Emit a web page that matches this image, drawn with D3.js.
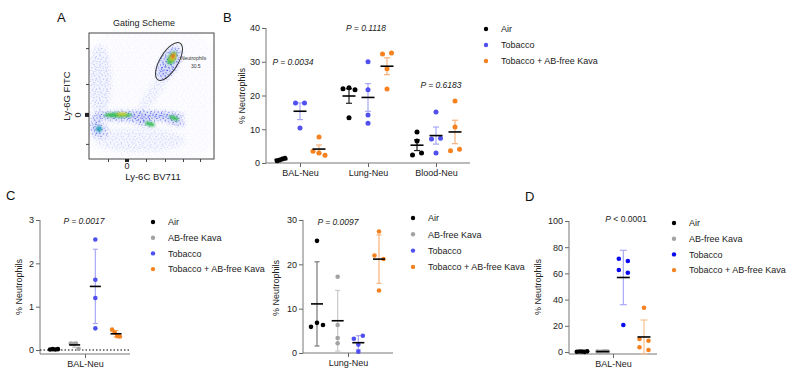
<!DOCTYPE html>
<html><head><meta charset="utf-8">
<script src="https://cdn.jsdelivr.net/npm/d3@7"></script>
<style>body{margin:0;background:#fff}svg{display:block;font-family:"Liberation Sans",Arial,sans-serif}</style>
</head><body><svg id="c" width="800" height="381"></svg>
<script>
// ---------------- DATA ----------------
// Panel B (mean ± SEM)
const categoriesB = ["BAL-Neu", "Lung-Neu", "Blood-Neu"];
const groupsB = ["Air", "Tobacco", "Tobacco + AB-free Kava"];
const airB = [[0.7, 0.9, 1.2, 1.4], [22.0, 22.3, 21.7, 13.4], [9.2, 6.5, 2.4, 3.0]];
const tobaccoB = [[17.8, 17.8, 10.4], [30.0, 21.7, 14.2, 11.8], [15.1, 7.1, 7.3, 3.0]];
const tobKavaB = [[7.7, 3.5, 3.0, 2.3], [32.3, 32.6, 27.9, 21.9], [18.4, 10.7, 3.6, 4.1]];
const pTextB = ["0.0034", "0.1118", "0.6183"];
const pLevelB = [30, 40, 23];           // value-level where each P label sits
const yTicksB = [0, 10, 20, 30, 40];

// Panels C and D (mean ± SD)
const groupsCD = ["Air", "AB-free Kava", "Tobacco", "Tobacco + AB-free Kava"];
const balC = [[0.01, 0.02, 0.01, 0.02], [0.15, 0.14, 0.15, 0.03], [2.55, 1.62, 1.2, 0.5], [0.47, 0.40, 0.32, 0.31]];
const lungC = [[25.3, 5.9, 6.8, 6.3], [17.2, 6.3, 3.4, 2.2], [3.2, 3.9, 1.9, 0.3], [27.4, 22.0, 21.2, 14.1]];
const balD = [[0.2, 0.4, 0.3, 0.1, 0.5], [0.3, 0.2, 0.4, 0.5, 0.3], [71.2, 69.5, 62.6, 60.5, 20.6], [33.8, 9.9, 8.6, 3.6, 1.5]];
const yTicksC1 = [0, 1, 2, 3];
const yTicksC2 = [0, 10, 20, 30];
const yTicksD = [0, 20, 40, 60, 80, 100];

// Panel A (gating plot populations, in plot units 0-100)
const populationsA = [
  {cx: 50, cy: 50, rx: 62, ry: 62, rot: 0, a: 0.05},
  {cx: 39.2, cy: 34.1, rx: 36.8, ry: 3.8, rot: 0, a: 0.95},
  {cx: 5.6, cy: 27, rx: 4.8, ry: 7.9, rot: 0, a: 0.6},
  {cx: 8.8, cy: 22.2, rx: 7.2, ry: 5.6, rot: 0, a: 0.5},
  {cx: 40.8, cy: 30.2, rx: 11.2, ry: 2.6, rot: 18, a: 0.8},
  {cx: 66.4, cy: 31, rx: 10.4, ry: 3.0, rot: 20, a: 0.8},
  {cx: 8.8, cy: 62.7, rx: 8.8, ry: 27.8, rot: 0, a: 0.22},
  {cx: 52.8, cy: 54.8, rx: 4.8, ry: 22.2, rot: 35, a: 0.16},
  {cx: 64, cy: 76.2, rx: 7.2, ry: 14.3, rot: 30, a: 0.9},
  {cx: 40.8, cy: 15, rx: 36, ry: 9.5, rot: 0, a: 0.15}
];
const coresA = [
  {cx: 23.2, cy: 34.9, rx: 11.2, ry: 2.0, rot: 0, color: "#2fbf45"},
  {cx: 48.8, cy: 27.8, rx: 4, ry: 1.6, rot: 15, color: "#2fbf45"},
  {cx: 68, cy: 32.5, rx: 4, ry: 1.6, rot: 20, color: "#2fbf45"},
  {cx: 8, cy: 23.8, rx: 2.4, ry: 2.4, rot: 0, color: "#20a0b0"},
  {cx: 26.4, cy: 35.7, rx: 4, ry: 1.2, rot: 0, color: "#d8d020"},
  {cx: 66.4, cy: 80.2, rx: 3.2, ry: 5.6, rot: 30, color: "#30c040"},
  {cx: 67.2, cy: 81, rx: 2.0, ry: 3.2, rot: 30, color: "#f0d020"},
  {cx: 67.2, cy: 81.7, rx: 1.2, ry: 2.0, rot: 30, color: "#e02020"}
];
const gateA = {cx: 64, cy: 77.4, rx: 7.2, ry: 17, rot: 31, label: "Neutrophils", value: "30.5"};
const ticksAy = [12, 35, 59.5, 88];
const ticksAx = [15.2, 30.4, 45.6, 60.8, 75.2, 88.8];

// ---------------- DRAWING ----------------
const svg = d3.select("#c");
svg.append("rect").attr("width", 800).attr("height", 381).attr("fill", "#fff");
const FONT = 9;

function panelLetter(t, x, y) {
  svg.append("text").attr("x", x).attr("y", y).attr("font-size", 13).attr("fill", "#111").text(t);
}

// ----- Panel A -----
(function () {
  const L = 89, R = 214, T = 33, B = 159;
  const x = d3.scaleLinear().domain([0, 100]).range([L, R]);
  const y = d3.scaleLinear().domain([0, 100]).range([B, T]);
  const defs = svg.append("defs");
  const p1 = defs.append("pattern").attr("id", "dotsA").attr("width", 11).attr("height", 11).attr("patternUnits", "userSpaceOnUse");
  [[0.8, 0.9], [4.2, 2.1], [8.3, 1.4], [2.3, 4.4], [6.9, 5.6], [10.1, 4.0], [3.1, 8.5], [6.4, 9.8], [9.0, 8.0], [1.0, 6.8], [5.2, 7.1], [7.6, 3.2], [0.3, 10.2]].forEach(p =>
    p1.append("circle").attr("cx", p[0]).attr("cy", p[1]).attr("r", 0.6).attr("fill", "#2338e6"));
  const p2 = defs.append("pattern").attr("id", "dotsB").attr("width", 7).attr("height", 9).attr("patternUnits", "userSpaceOnUse");
  [[2.5, 1.5], [0.5, 4.2], [4.0, 3.6], [5.8, 7.3], [1.9, 7.9]].forEach(p =>
    p2.append("circle").attr("cx", p[0]).attr("cy", p[1]).attr("r", 0.55).attr("fill", "#4a5af0"));
  defs.append("filter").attr("id", "blurM").attr("x", "-50%").attr("y", "-50%").attr("width", "200%").attr("height", "200%")
    .append("feGaussianBlur").attr("stdDeviation", 2.2);
  defs.append("filter").attr("id", "blurC").attr("x", "-50%").attr("y", "-50%").attr("width", "200%").attr("height", "200%")
    .append("feGaussianBlur").attr("stdDeviation", 1.0);
  defs.append("clipPath").attr("id", "clipA").append("rect").attr("x", L).attr("y", T).attr("width", R - L).attr("height", B - T);
  const mask = defs.append("mask").attr("id", "maskA").attr("maskUnits", "userSpaceOnUse")
    .attr("x", 0).attr("y", 0).attr("width", 800).attr("height", 381);
  const mg = mask.append("g").attr("filter", "url(#blurM)");
  function ell(sel, d) {
    const cx = x(d.cx), cy = y(d.cy);
    return sel.append("ellipse").attr("cx", cx).attr("cy", cy)
      .attr("rx", x(d.rx) - x(0)).attr("ry", y(0) - y(d.ry))
      .attr("transform", `rotate(${d.rot},${cx},${cy})`);
  }
  populationsA.forEach(d => ell(mg, d).attr("fill", "#fff").attr("fill-opacity", d.a));
  const gA = svg.append("g").attr("clip-path", "url(#clipA)");
  gA.append("rect").attr("x", L).attr("y", T).attr("width", R - L).attr("height", B - T)
    .attr("fill", "#6a7cf0").attr("fill-opacity", 0.3).attr("mask", "url(#maskA)");
  gA.append("rect").attr("x", L).attr("y", T).attr("width", R - L).attr("height", B - T)
    .attr("fill", "url(#dotsA)").attr("mask", "url(#maskA)");
  gA.append("rect").attr("x", L).attr("y", T).attr("width", R - L).attr("height", B - T)
    .attr("fill", "url(#dotsB)").attr("mask", "url(#maskA)");
  const cg = gA.append("g").attr("filter", "url(#blurC)");
  coresA.forEach(d => ell(cg, d).attr("fill", d.color).attr("fill-opacity", 0.9));
  // gate
  ell(svg, gateA).attr("fill", "none").attr("stroke", "#333").attr("stroke-width", 1);
  svg.append("text").attr("x", x(gateA.cx + 9.5)).attr("y", y(gateA.cy + 1)).attr("font-size", 5).attr("fill", "#333").text(gateA.label);
  svg.append("text").attr("x", x(gateA.cx + 17.5)).attr("y", y(gateA.cy - 5)).attr("font-size", 5).attr("fill", "#333").text(gateA.value);
  // frame + ticks
  svg.append("rect").attr("x", L).attr("y", T).attr("width", R - L).attr("height", B - T)
    .attr("fill", "none").attr("stroke", "#444").attr("stroke-width", 1);
  const ay = svg.append("g").attr("transform", `translate(${L},0)`)
    .call(d3.axisLeft(y).tickValues(ticksAy).tickSize(3).tickFormat(""));
  ay.select(".domain").remove(); ay.selectAll("line").attr("stroke", "#444");
  const ax = svg.append("g").attr("transform", `translate(0,${B})`)
    .call(d3.axisBottom(x).tickValues(ticksAx).tickSize(3).tickFormat(""));
  ax.select(".domain").remove(); ax.selectAll("line").attr("stroke", "#444");
  // zero markers
  svg.append("rect").attr("x", L - 4).attr("y", y(35) - 2).attr("width", 4).attr("height", 4).attr("fill", "#222");
  svg.append("rect").attr("x", x(30.4) - 2).attr("y", B).attr("width", 4).attr("height", 3).attr("fill", "#222");
  svg.append("text").attr("transform", `translate(${L - 8},${y(35)}) rotate(-90)`).attr("text-anchor", "middle")
    .attr("font-size", 9).attr("fill", "#222").text("0");
  svg.append("text").attr("x", x(30.4)).attr("y", B + 10).attr("text-anchor", "middle").attr("font-size", 9).attr("fill", "#222").text("0");
  svg.append("text").attr("x", 144).attr("y", 26).attr("text-anchor", "middle").attr("font-size", 9).attr("fill", "#222").text("Gating Scheme");
  svg.append("text").attr("x", 153).attr("y", 180).attr("text-anchor", "middle").attr("font-size", 9.5).attr("fill", "#222").text("Ly-6C BV711");
  svg.append("text").attr("transform", `translate(70,96) rotate(-90)`).attr("text-anchor", "middle")
    .attr("font-size", 9.5).attr("fill", "#222").text("Ly-6G FITC");
  panelLetter("A", 57, 22);
})();

// ----- dot-plot helper -----
function swarmOffsets(vals, y, thr) {
  const idx = vals.map((v, i) => i).sort((a, b) => vals[a] - vals[b]);
  const clusters = []; let cur = [idx[0]];
  for (let k = 1; k < idx.length; k++) {
    if (Math.abs(y(vals[idx[k]]) - y(vals[idx[k - 1]])) < thr) cur.push(idx[k]);
    else { clusters.push(cur); cur = [idx[k]]; }
  }
  clusters.push(cur);
  const off = vals.map(() => 0);
  clusters.forEach(c => {
    c.sort((a, b) => a - b);
    const n = c.length, d = n === 2 ? 9 : n === 3 ? 6 : 2.6;
    c.forEach((i, j) => off[i] = (j - (n - 1) / 2) * d);
  });
  return off;
}

function styleAxis(g) {
  g.select(".domain").remove();
  g.selectAll(".tick line").attr("stroke", "#666");
  g.selectAll(".tick text").attr("font-size", FONT).attr("fill", "#222").attr("font-family", "Liberation Sans, Arial, sans-serif");
}

function dotPanel(o) {
  const g = svg.append("g");
  const y = d3.scaleLinear().domain(o.yDomain).range([o.y0, o.y1]);
  const x = d3.scalePoint().domain(o.categories).range([o.xL, o.xR]).padding(0.5);
  const xo = d3.scalePoint().domain(o.groups.map(d => d.name)).range([-o.spread, o.spread]);
  g.append("g").attr("transform", `translate(${o.xL},0)`)
    .call(d3.axisLeft(y).tickValues(o.ticks).tickSize(4).tickPadding(2).tickFormat(d3.format("d"))).call(styleAxis);
  g.append("g").attr("transform", `translate(0,${o.axisY})`)
    .call(d3.axisBottom(x).tickSize(4).tickPadding(3)).call(styleAxis);
  g.append("line").attr("x1", o.xL).attr("x2", o.xL).attr("y1", y(o.yDomain[1])).attr("y2", o.axisY).attr("stroke", "#777");
  g.append("line").attr("x1", o.xL).attr("x2", o.xR).attr("y1", o.axisY).attr("y2", o.axisY).attr("stroke", "#777");
  if (o.zeroLine) g.append("line").attr("x1", o.xL).attr("x2", o.xR).attr("y1", y(0)).attr("y2", y(0))
    .attr("stroke", "#000").attr("stroke-width", 1.1).attr("stroke-dasharray", "1.5,2");
  g.append("text").attr("transform", `translate(${o.labelX},${o.labelY}) rotate(-90)`).attr("text-anchor", "middle")
    .attr("font-size", FONT).attr("fill", "#222").text("% Neutrophils");
  o.categories.forEach((cat, ci) => {
    o.groups.forEach(gr => {
      const vals = gr.values[ci];
      const cx = x(cat) + xo(gr.name);
      const m = d3.mean(vals);
      const sd = d3.deviation(vals);
      const e = o.err === "sem" ? sd / Math.sqrt(vals.length) : sd;
      const ec = gr.errColor;
      g.append("line").attr("x1", cx).attr("x2", cx).attr("y1", y(m + e)).attr("y2", y(Math.max(m - e, o.yDomain[0] - 1)))
        .attr("stroke", ec).attr("stroke-width", 1.2);
      [m + e, m - e].forEach(v => {
        g.append("line").attr("x1", cx - o.capW / 2).attr("x2", cx + o.capW / 2).attr("y1", y(v)).attr("y2", y(v))
          .attr("stroke", ec).attr("stroke-width", 1.2);
      });
      const off = swarmOffsets(vals, y, 5);
      g.selectAll(null).data(vals).enter().append("circle")
        .attr("cx", (d, i) => cx + off[i]).attr("cy", d => y(d)).attr("r", o.r).attr("fill", gr.color);
      g.append("line").attr("x1", cx - o.meanW / 2).attr("x2", cx + o.meanW / 2).attr("y1", y(m)).attr("y2", y(m))
        .attr("stroke", "#000").attr("stroke-width", 1.6);
    });
  });
  return {x, y, g};
}

function legend(x0, y0, dy, items) {
  items.forEach((it, i) => {
    svg.append("circle").attr("cx", x0).attr("cy", y0 + i * dy).attr("r", 2.2).attr("fill", it.color);
    svg.append("text").attr("x", x0 + 15).attr("y", y0 + i * dy + 3.3).attr("font-size", FONT).attr("fill", "#222").text(it.name);
  });
}

function pLabel(g, x, y, op, val, italicAll) {
  const t = g.append("text").attr("x", x).attr("y", y).attr("text-anchor", "middle").attr("font-size", 8.5).attr("fill", "#222");
  t.append("tspan").attr("font-style", "italic").text("P");
  t.append("tspan").attr("font-style", italicAll ? "italic" : "normal").text(` ${op} ${val}`);
}

const BLUE = "#5050f0", BLUE_E = "#a8a8f6", ORANGE = "#f5821f", ORANGE_E = "#f6b27c", GRAY = "#a3a3a3", GRAY_E = "#c9c9c9";

// ----- Panel B -----
(function () {
  const groups = [
    {name: groupsB[0], color: "#000", errColor: "#222", values: airB},
    {name: groupsB[1], color: BLUE, errColor: BLUE_E, values: tobaccoB},
    {name: groupsB[2], color: ORANGE, errColor: ORANGE_E, values: tobKavaB}
  ];
  const p = dotPanel({yDomain: [0, 40], y0: 163, y1: 28, xL: 266, xR: 470, axisY: 163, ticks: yTicksB,
    categories: categoriesB, groups, spread: 19, err: "sem", r: 2.5, meanW: 13, capW: 6, labelX: 245, labelY: 96});
  categoriesB.forEach((c, i) => pLabel(p.g, p.x(c) + [-7, -2, 5][i], p.y(pLevelB[i]) + 3, "=", pTextB[i], true));
  legend(486, 29, 16, groups);
  panelLetter("B", 223, 22);
})();

// ----- Panel C -----
(function () {
  const vals = [balC, lungC];
  const mk = (data, k) => [
    {name: groupsCD[0], color: "#000", errColor: k ? "#777" : "#333", values: [data[0]]},
    {name: groupsCD[1], color: GRAY, errColor: GRAY_E, values: [data[1]]},
    {name: groupsCD[2], color: BLUE, errColor: BLUE_E, values: [data[2]]},
    {name: groupsCD[3], color: ORANGE, errColor: ORANGE_E, values: [data[3]]}
  ];
  const g1 = mk(vals[0], 0);
  const p1 = dotPanel({yDomain: [0, 3], y0: 350, y1: 220, xL: 40, xR: 130, axisY: 354, ticks: yTicksC1,
    categories: ["BAL-Neu"], groups: g1, spread: 31, err: "sd", r: 2.3, meanW: 11, capW: 5, labelX: 22, labelY: 287, zeroLine: true});
  pLabel(p1.g, p1.x("BAL-Neu") - 1, 224, "=", "0.0017", true);
  legend(153, 222, 15.7, g1);
  const g2 = mk(vals[1], 1);
  const p2 = dotPanel({yDomain: [0, 30], y0: 353, y1: 220, xL: 303, xR: 393, axisY: 353, ticks: yTicksC2,
    categories: ["Lung-Neu"], groups: g2, spread: 31, err: "sd", r: 2.3, meanW: 12, capW: 5, labelX: 279, labelY: 288});
  pLabel(p2.g, p2.x("Lung-Neu") - 10, 225, "=", "0.0097", true);
  legend(413, 218, 16.3, g2);
  panelLetter("C", 6, 200);
})();

// ----- Panel D -----
(function () {
  const groups = [
    {name: groupsCD[0], color: "#000", errColor: "#333", values: [balD[0]]},
    {name: groupsCD[1], color: GRAY, errColor: GRAY_E, values: [balD[1]]},
    {name: groupsCD[2], color: "#0a0af0", errColor: "#a8a8f8", values: [balD[2]]},
    {name: groupsCD[3], color: ORANGE, errColor: "#f8c08f", values: [balD[3]]}
  ];
  const p = dotPanel({yDomain: [0, 100], y0: 352, y1: 221, xL: 569, xR: 657, axisY: 354, ticks: yTicksD,
    categories: ["BAL-Neu"], groups, spread: 31, err: "sd", r: 2.3, meanW: 13, capW: 7, labelX: 541, labelY: 287});
  pLabel(p.g, p.x("BAL-Neu") + 13, 222, "<", "0.0001", false);
  legend(674, 223, 15.7, groups);
  panelLetter("D", 525, 201);
})();
</script></body></html>
